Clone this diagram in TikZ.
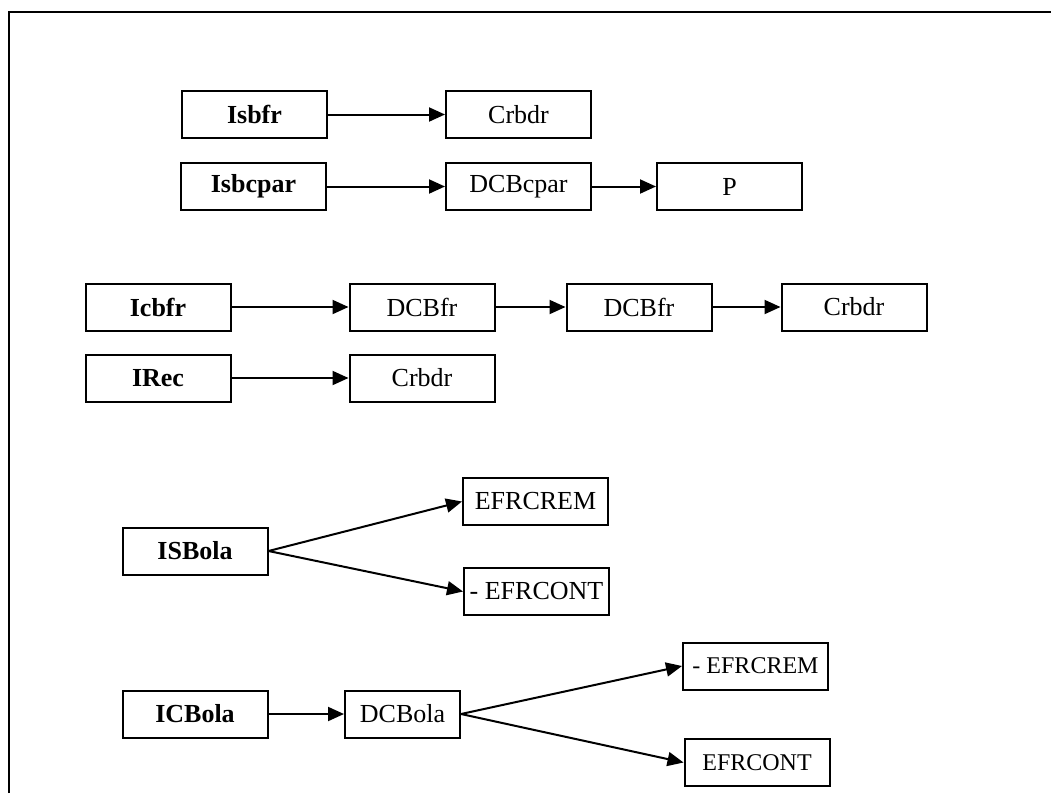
\documentclass[tikz,border=0pt]{standalone}
\usepackage{fontspec}
\setmainfont{Liberation Serif}
\usetikzlibrary{arrows.meta}

\tikzset{
  box/.style={draw=black, line width=2pt, minimum width=145pt, minimum height=47pt,
    inner sep=0pt, font=\fontsize{26}{30}\selectfont},
  lead/.style={box, font=\fontsize{26}{30}\selectfont\bfseries},
  small/.style={font=\fontsize{24}{28}\selectfont},
  link/.style={line width=2pt, -{Triangle[length=16pt,width=14pt]}},
  frameline/.style={line width=2.4pt}
}

\begin{document}
\begin{tikzpicture}[x=1pt, y=-1pt]
  \useasboundingbox (0,0) rectangle (1051,793);

  % outer frame (top and left edges)
  \coordinate (fl) at (9,793);
  \coordinate (fc) at (9,12);
  \coordinate (fr) at (1051,12);
  \draw[frameline] (fl) -- (fc) -- (fr);

  % first block
  \node[lead] (isbfr)   at (254.5,114.5) {Isbfr};
  \node[box]  (crbdrA)  at (518.5,114.5) {Crbdr};
  \node[lead] (isbcpar) at (253.5,186.5) {Isbcpar};
  \node[box]  (dcbcpar) at (518.5,186.5) {DCBcpar};
  \node[box]  (p)       at (729.5,186.5) {P};

  \draw[link] (isbfr) -- (crbdrA);
  \draw[link] (isbcpar) -- (dcbcpar);
  \draw[link] (dcbcpar) -- (p);

  % second block
  \node[lead] (icbfr)   at (158,307) {Icbfr};
  \node[box]  (dcbfrA)  at (422,307) {DCBfr};
  \node[box]  (dcbfrB)  at (639,307) {DCBfr};
  \node[box]  (crbdrB)  at (854,307) {Crbdr};
  \node[lead] (irec)    at (158,378) {IRec};
  \node[box]  (crbdrC)  at (422,378) {Crbdr};

  \draw[link] (icbfr) -- (dcbfrA);
  \draw[link] (dcbfrA) -- (dcbfrB);
  \draw[link] (dcbfrB) -- (crbdrB);
  \draw[link] (irec) -- (crbdrC);

  % third block
  \node[lead] (isbola)   at (195,551)   {ISBola};
  \node[box]  (efrcremA) at (535.5,501.5) {EFRCREM};
  \node[box]  (efrcontA) at (536.5,591.5) {- EFRCONT};

  \draw[link] (isbola.east) -- (efrcremA.west);
  \draw[link] (isbola.east) -- (efrcontA.west);

  % fourth block
  \node[lead] (icbola)   at (195,714) {ICBola};
  \node[box, minimum width=115pt] (dcbola) at (402.5,714) {DCBola};
  \node[box, small]  (efrcremB) at (755.5,666) {- EFRCREM};
  \node[box, small]  (efrcontB) at (757,762.5) {EFRCONT};

  \draw[link] (icbola) -- (dcbola);
  \draw[link] (dcbola.east) -- (efrcremB.west);
  \draw[link] (dcbola.east) -- (efrcontB.west);
\end{tikzpicture}
\end{document}
